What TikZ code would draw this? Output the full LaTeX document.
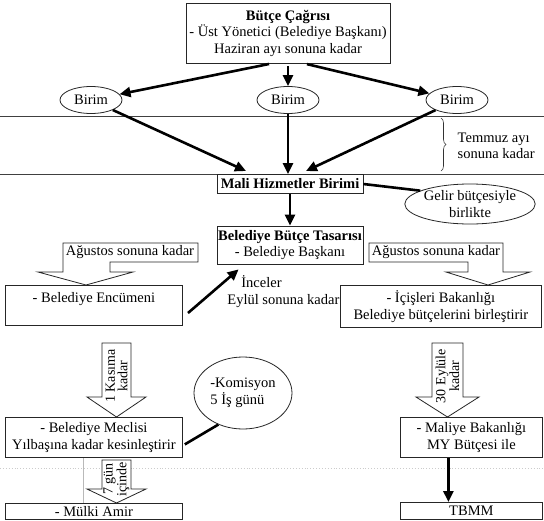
\documentclass[tikz,border=0pt]{standalone}
\usepackage{fontspec}
\setmainfont{Liberation Serif}
\usetikzlibrary{arrows.meta,shapes.geometric,decorations.pathreplacing,calc}

\begin{document}
\begin{tikzpicture}[x=1pt,y=-1pt,
  font=\fontsize{14.5}{16.5}\selectfont,
  line width=0.8pt, draw=black!85,
  box/.style={draw=black!85, inner sep=1pt, align=center},
  birim/.style={draw=black!85, ellipse, minimum width=62, minimum height=27, inner sep=0pt},
  flow/.style={draw=black, line width=2.6pt, -{Triangle[length=11pt,width=10pt]}},
  barline/.style={draw=black, line width=2.6pt},
  rule/.style={draw=black!75, line width=0.8pt},
  blockarrow/.style={draw=black!85, line width=0.8pt, fill=white},
  vtext/.style={rotate=90, align=center, inner sep=0pt, font=\fontsize{14}{12.5}\selectfont}]

\useasboundingbox (0,0) rectangle (544,520);

% faint scan lines
\draw[gray!40, dotted, line width=0.9pt] (0,468) -- (544,468);
\draw[gray!55, line width=0.4pt] (83,458) -- (83,503);

% horizontal period rules
\draw[rule] (0,116) -- (544,116);
\draw[rule] (0,174) -- (544,174);

% budget call
\node[box, minimum width=204, minimum height=60] (call) at (288,33)
  {\textbf{Bütçe Çağrısı}\\- Üst Yönetici (Belediye Başkanı)\\Haziran ayı sonuna kadar};

\node[birim] (b1) at (91,100) {Birim};
\node[birim] (b2) at (288,100) {Birim};
\node[birim] (b3) at (457,100) {Birim};

\draw[flow, shorten <=3pt] ([xshift=-16]call.south) -- (b1);
\draw[flow, shorten <=3pt] (call.south) -- (b2);
\draw[flow, shorten <=3pt] ([xshift=16]call.south) -- (b3);

% financial services unit
\node[box, minimum width=146, minimum height=19] (mali) at (290,184) {\textbf{Mali Hizmetler Birimi}};
\coordinate (m1) at (246,171);
\coordinate (m3) at (306,171);
\draw[flow] (b1) -- (m1);
\draw[flow] (b2) -- (b2 |- mali.north);
\draw[flow] (b3) -- (m3);

\draw[decorate, decoration={brace, amplitude=5pt}, draw=black!80, line width=0.6pt] (441,118) -- (441,171);
\node[anchor=west, align=left] (temmuz) at (454,146) {Temmuz ayı\\sonuna kadar};

\node[draw=black!85, ellipse, minimum width=128, minimum height=40, inner sep=0pt, align=center] (gelir) at (470,204)
  {Gelir bütçesiyle\\birlikte};
\draw[barline] (mali.east) -- (gelir.165);

% draft budget
\node[box, minimum width=146, minimum height=38] (tasari) at (290,245)
  {\textbf{Belediye Bütçe Tasarısı}\\- Belediye Başkanı};
\draw[flow] (mali) -- (tasari);

% left branch: municipal committee
\draw[blockarrow] (63,243) -- (198,243) -- (198,262) -- (110,262) -- (110,272) -- (133,272)
  -- (86,285) -- (38,272) -- (63,272) -- cycle;
\node (ag1) at (130,252.5) {Ağustos sonuna kadar};

\node[box, minimum width=177, minimum height=40, anchor=north west] (encumen) at (5,285)
  {- Belediye Encümeni\\\mbox{}};
\coordinate (incfrom) at (188,313);
\draw[flow] (incfrom) -- ($(tasari.south west)+(22,5)$);
\node[anchor=west, inner sep=1pt] (inceler) at (240,282) {İnceler};
\node[anchor=west, inner sep=1pt] (eylul) at (226,301) {Eylül sonuna kadar};

% right branch: ministry of interior
\draw[blockarrow] (369,243) -- (503,243) -- (503,272) -- (530,272) -- (488,285) -- (446,272)
  -- (468,272) -- (468,262) -- (369,262) -- cycle;
\node (ag2) at (436,252.5) {Ağustos sonuna kadar};

\node[box, minimum width=201, minimum height=42, anchor=north west] (icisleri) at (340,285)
  {- İçişleri Bakanlığı\\Belediye bütçelerini birleştirir};

% municipal council
\draw[blockarrow] (102,343) -- (131,343) -- (131,397) -- (146,397) -- (116.5,417) -- (87,397) -- (102,397) -- cycle;
\node[vtext] (kasim) at (116.5,376) {1 Kasıma\\kadar};

\node[box, minimum width=177, minimum height=40, anchor=north west] (meclis) at (5,417)
  {- Belediye Meclisi\\Yılbaşına kadar kesinleştirir};

\node[draw=black!85, ellipse, minimum width=98, minimum height=72, inner sep=0pt, align=left] (komisyon) at (243,393)
  {-Komisyon\\5 İş günü};
\draw[barline] ($(meclis.east)+(2,7)$) -- (komisyon.232);

\draw[blockarrow] (102,460) -- (131,460) -- (131,489) -- (146,489) -- (116.5,503) -- (87,489) -- (102,489) -- cycle;
\node[vtext] (yedi) at (116.5,479) {7 gün\\içinde};

\node[box, minimum width=177, minimum height=16, inner sep=0pt, anchor=north west] (mulki) at (5,503) {- Mülki Amir};

% ministry of finance
\draw[blockarrow] (432,343) -- (463,343) -- (463,397) -- (479,397) -- (447.5,417) -- (416,397) -- (432,397) -- cycle;
\node[vtext] (otuz) at (447.5,376) {30 Eylüle\\kadar};

\node[box, minimum width=142, minimum height=40, anchor=north west] (maliye) at (400,417)
  {- Maliye Bakanlığı\\MY Bütçesi ile};
\node[box, minimum width=142, minimum height=17, inner sep=0pt, anchor=north west] (tbmm) at (400,502) {TBMM};
\draw[flow] ([xshift=-23]maliye.south) -- ([xshift=-23]tbmm.north);

\end{tikzpicture}
\end{document}
